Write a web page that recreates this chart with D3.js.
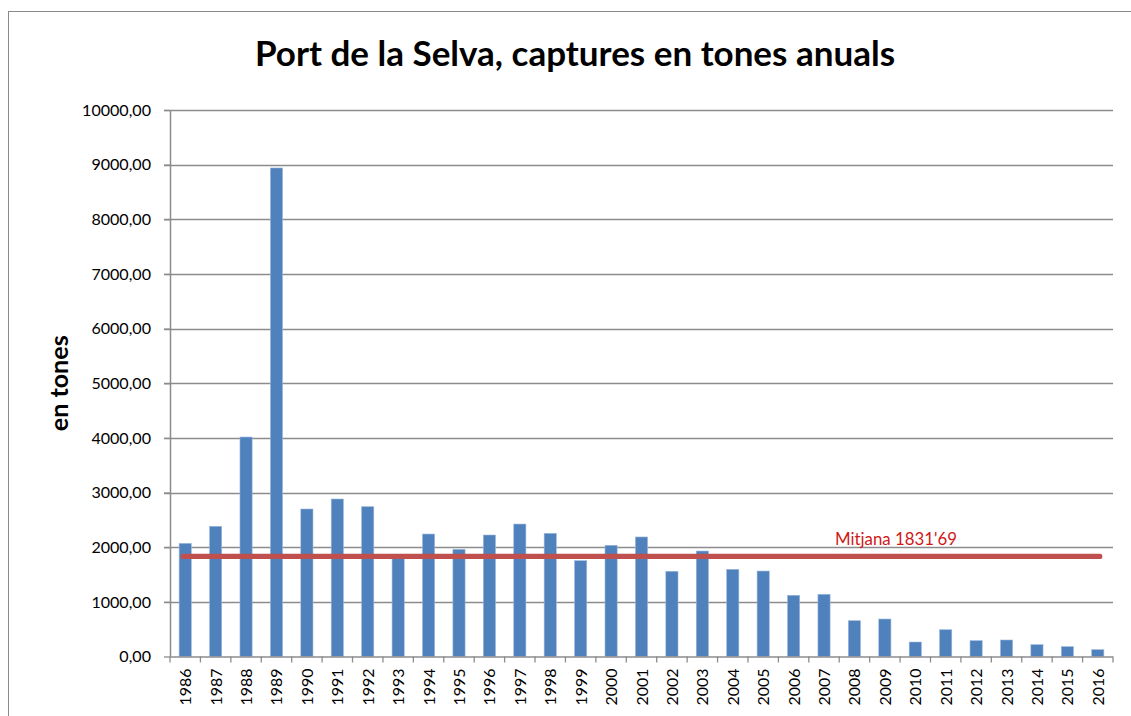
<!DOCTYPE html>
<html>
<head>
<meta charset="utf-8">
<script src="https://cdn.jsdelivr.net/npm/d3@7"></script>
<style>
  html, body { margin: 0; padding: 0; background: #fff; }
  svg { display: block; }
  text { font-family: Lato, "Open Sans", sans-serif; }
</style>
</head>
<body>
<svg id="chart" width="1131" height="716"></svg>
<script>
// Annual catches at Port de la Selva (tonnes)
const years = ["1986","1987","1988","1989","1990","1991","1992","1993","1994","1995",
  "1996","1997","1998","1999","2000","2001","2002","2003","2004","2005","2006","2007",
  "2008","2009","2010","2011","2012","2013","2014","2015","2016"];
const catches = [2070, 2382, 4016, 8939, 2699, 2882, 2741, 1800, 2241, 1961,
  2223, 2424, 2254, 1753, 2035, 2187, 1559, 1930, 1595, 1564, 1120, 1138,
  655, 686, 265, 490, 290, 302, 216, 180, 125];
const yTicks = [0, 1000, 2000, 3000, 4000, 5000, 6000, 7000, 8000, 9000, 10000];
const meanValue = 1831.69;
const meanLabel = "Mitjana 1831'69";
const title = "Port de la Selva, captures en tones anuals";
const yTitle = "en tones";

const svg = d3.select("#chart");
const plot = { left: 170, right: 1113, top: 110, bottom: 656.5 };

// Shrinks or grows a text's font so it spans the given width
function fitWidth(sel, width, base) {
  sel.style("font-size", base + "px");
  const w = sel.node().getComputedTextLength();
  sel.style("font-size", (base * width / w).toFixed(2) + "px");
}

// Outer chart frame
svg.append("rect")
  .attr("x", 8.5).attr("y", 11.5)
  .attr("width", 1300).attr("height", 900)
  .attr("fill", "#fff").attr("stroke", "#8a8a8a").attr("stroke-width", 1);

const x = d3.scaleBand().domain(years).range([plot.left, plot.right]).paddingInner(0).paddingOuter(0);
const y = d3.scaleLinear().domain([0, 10000]).range([plot.bottom, plot.top]);
const barW = x.bandwidth() / 2.5;

// Horizontal gridlines
svg.append("g").selectAll("line").data(yTicks.filter(d => d > 0)).join("line")
  .attr("x1", plot.left - 6).attr("x2", plot.right)
  .attr("y1", d => Math.round(y(d)) + 0.5).attr("y2", d => Math.round(y(d)) + 0.5)
  .attr("stroke", "#8c8c8c").attr("stroke-width", 1.3);

// Y axis with labels
const yAxis = d3.axisLeft(y).tickValues(yTicks).tickSize(6).tickPadding(13)
  .tickFormat(d => d3.format(".2f")(d).replace(".", ","));
const gy = svg.append("g").attr("transform", `translate(${plot.left},0)`).call(yAxis);
gy.select(".domain").remove();
gy.selectAll(".tick line").attr("stroke", "#8c8c8c").attr("stroke-width", 1.3);
gy.selectAll(".tick text").attr("fill", "#000").style("font-family", "Lato, sans-serif");
svg.append("line")
  .attr("x1", plot.left + 0.5).attr("x2", plot.left + 0.5)
  .attr("y1", plot.top).attr("y2", plot.bottom)
  .attr("stroke", "#8c8c8c").attr("stroke-width", 1.5);

// Bars
svg.append("g").selectAll("rect").data(years).join("rect")
  .attr("x", (d) => x(d) + (x.bandwidth() - barW) / 2)
  .attr("width", barW)
  .attr("y", (d, i) => y(catches[i]))
  .attr("height", (d, i) => y(0) - y(catches[i]))
  .attr("fill", "#4f81bd")
  .attr("stroke", "#9cb8dc").attr("stroke-width", 0.6);

// X axis: ticks on category boundaries, rotated year labels
const boundaries = years.map(d => x(d)).concat([plot.right]);
svg.append("line")
  .attr("x1", plot.left).attr("x2", plot.right)
  .attr("y1", plot.bottom + 0.5).attr("y2", plot.bottom + 0.5)
  .attr("stroke", "#8c8c8c").attr("stroke-width", 1.5);
svg.append("g").selectAll("line").data(boundaries).join("line")
  .attr("x1", d => d).attr("x2", d => d)
  .attr("y1", plot.bottom).attr("y2", plot.bottom + 6)
  .attr("stroke", "#8c8c8c").attr("stroke-width", 1.3);
const xl = svg.append("g").selectAll("text").data(years).join("text")
  .attr("transform", d => `translate(${x(d) + x.bandwidth() / 2 + 6},${plot.bottom + 12}) rotate(-90)`)
  .attr("text-anchor", "end")
  .attr("fill", "#000")
  .text(d => d);

// Mean line and its label
svg.append("line")
  .attr("x1", x(years[0]) + x.bandwidth() / 2 - 2)
  .attr("x2", x(years[years.length - 1]) + x.bandwidth() / 2 + 2)
  .attr("y1", y(meanValue)).attr("y2", y(meanValue))
  .attr("stroke", "#c0504d").attr("stroke-width", 5.2).attr("stroke-linecap", "round");
const ml = svg.append("text")
  .attr("x", 835).attr("y", y(meanValue) - 11)
  .attr("fill", "#d01818")
  .text(meanLabel);

// Titles
const t = svg.append("text")
  .attr("x", 575).attr("y", 66)
  .attr("text-anchor", "middle")
  .attr("font-weight", "bold")
  .attr("fill", "#000")
  .text(title);
const yt = svg.append("text")
  .attr("transform", `translate(68,${(plot.top + plot.bottom) / 2}) rotate(-90)`)
  .attr("text-anchor", "middle")
  .attr("font-weight", "bold")
  .attr("fill", "#000")
  .text(yTitle);

// Font sizing by target widths
fitWidth(t, 640, 30);
fitWidth(yt, 96, 20);
fitWidth(ml, 122, 14);
const tickSample = gy.selectAll(".tick text").filter(d => d === 10000);
gy.selectAll(".tick text").style("font-size", "16px");
const tw = tickSample.node().getComputedTextLength();
gy.selectAll(".tick text").style("font-size", (16 * 69 / tw).toFixed(2) + "px");
xl.style("font-size", "16px");
const xw = xl.nodes()[0].getComputedTextLength();
xl.style("font-size", (16 * 37 / xw).toFixed(2) + "px");
</script>
</body>
</html>
